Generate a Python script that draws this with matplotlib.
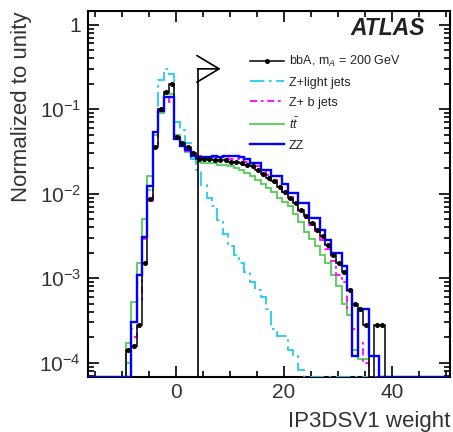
import numpy as np
import matplotlib
matplotlib.use('Agg')
import matplotlib.pyplot as plt
from matplotlib.lines import Line2D
from matplotlib.patches import FancyArrowPatch
from matplotlib.ticker import FixedLocator, MultipleLocator, NullFormatter

plt.rcParams['font.family'] = ['Liberation Sans', 'DejaVu Sans']
plt.rcParams['mathtext.fontset'] = 'custom'
plt.rcParams['mathtext.rm'] = 'Liberation Sans'
plt.rcParams['mathtext.it'] = 'Liberation Sans:italic'
plt.rcParams['mathtext.bf'] = 'Liberation Sans:bold'

# ---------------- data (bin low edges -10 ... 40, width 1) ----------------
bin_low = list(range(-10, 41))

signal_bbA = [0, 1.4e-4, 1.6e-4, 2.8e-4, 1.5e-3, 8.7e-3, 0.036, 0.10, 0.16, 0.20,
              0.047, 0.040, 0.036, 0.030, 0.026, 0.026, 0.026, 0.025, 0.025, 0.025,
              0.024, 0.024, 0.023, 0.022, 0.021, 0.019, 0.017, 0.0155, 0.0140, 0.012,
              0.0105, 0.009, 0.0078, 0.0065, 0.0054, 0.0045, 0.0037, 0.0032, 0.0025, 0.0019,
              0.0015, 0.0012, 7.3e-4, 5.0e-4, 4.3e-4, 2.8e-4, 0, 2.8e-4, 2.8e-4, 0, 0]

z_light = [0, 1.0e-4, 2.5e-4, 9e-4, 3e-3, 0.011, 0.05, 0.22, 0.30, 0.26,
           0.071, 0.057, 0.040, 0.026, 0.019, 0.0127, 0.009, 0.0071, 0.0049, 0.0033,
           0.0024, 0.0019, 0.0015, 0.0012, 9e-4, 7.3e-4, 6e-4, 4.3e-4, 2.5e-4, 2.1e-4,
           2.1e-4, 1.4e-4, 1.2e-4, 8.2e-5, 0, 0, 0, 0, 0, 0,
           0, 0, 0, 0, 0, 0, 0, 0, 0, 0, 0]

z_b = [0, 0, 2e-4, 5.5e-4, 2.9e-3, 8.1e-3, 0.035, 0.10, 0.14, 0.12,
       0.048, 0.040, 0.032, 0.029, 0.028, 0.027, 0.027, 0.027, 0.027, 0.027,
       0.026, 0.026, 0.025, 0.024, 0.023, 0.021, 0.019, 0.0165, 0.0145, 0.0125,
       0.0105, 0.0092, 0.0077, 0.0063, 0.0052, 0.0043, 0.0035, 0.0028, 0.0022, 0.0016,
       1.1e-3, 9.0e-4, 4.5e-4, 2.5e-4, 1.7e-4, 1.0e-4, 0, 0, 0, 0, 0]

ttbar = [0, 1.7e-4, 5.3e-4, 1.5e-3, 5e-3, 0.016, 0.05, 0.09, 0.16, 0.15,
         0.05, 0.038, 0.031, 0.026, 0.024, 0.023, 0.023, 0.023, 0.022, 0.022,
         0.021, 0.020, 0.019, 0.0175, 0.016, 0.0145, 0.013, 0.0117, 0.0105, 0.0089,
         0.008, 0.0071, 0.0057, 0.0046, 0.0035, 0.0029, 0.0024, 0.0019, 0.0015, 1.1e-3,
         8e-4, 5e-4, 3.7e-4, 1.4e-4, 1.1e-4, 1.1e-4, 0, 0, 0, 0, 0]

zz = [0, 0, 3.0e-4, 1.1e-3, 3.1e-3, 0.0122, 0.054, 0.094, 0.141, 0.141,
      0.045, 0.037, 0.033, 0.028, 0.027, 0.027, 0.027, 0.028, 0.027, 0.028,
      0.028, 0.028, 0.027, 0.026, 0.023, 0.023, 0.019, 0.019, 0.016, 0.016,
      0.013, 0.0101, 0.0101, 0.0078, 0.0078, 0.0052, 0.0052, 0.0037, 0.0028, 0.0020,
      0.0020, 0.0014, 7.3e-4, 1.2e-4, 4.3e-4, 4.3e-4, 1.2e-4, 1.2e-4, 0, 0, 0]

labels = ['bbA, m$_A$ = 200 GeV', 'Z+light jets', 'Z+ b jets', r'$t\bar{t}$', 'ZZ']
cut_value = 4.0
x_title = 'IP3DSV1 weight'
y_title = 'Normalized to unity'

# ---------------- figure ----------------
XMIN, XMAX = -16.3, 50.8
YMIN, YMAX = 6.8e-5, 1.45
W, H = 453, 432
fig = plt.figure(figsize=(W / 100, H / 100), dpi=100)
ax = fig.add_axes([88 / W, 1 - 377 / H, (450 - 88) / W, (377 - 11) / H])
ax.set_yscale('log')
ax.set_xlim(XMIN, XMAX)
ax.set_ylim(YMIN, YMAX)

edges = np.array(bin_low + [bin_low[-1] + 1], dtype=float) - 0.3
full_edges = np.concatenate([[XMIN], edges, [XMAX]])


def draw(vals, **kw):
    v = np.concatenate([[0.0], np.asarray(vals, float), [0.0]])
    v = np.maximum(v, YMIN)
    return ax.stairs(v, full_edges, baseline=None, **kw)


cyan = '#22ccee'
magenta = '#ff00ff'
green = '#55cc55'
blue = '#0000ff'
cyan_ls = (0, (8, 2.5, 1.5, 2.5))
mag_ls = (0, (4, 2, 1.5, 2))

draw(ttbar, color=green, lw=1.3, zorder=2)
draw(z_light, color=cyan, lw=1.3, linestyle=cyan_ls, zorder=3)
draw(z_b, color=magenta, lw=1.3, linestyle=mag_ls, zorder=3)
draw(signal_bbA, color='black', lw=1.1, zorder=4)
draw(zz, color=blue, lw=1.7, zorder=5)

centers = edges[:-1] + 0.5
sig = np.asarray(signal_bbA, float)
m = sig > 0
ax.plot(centers[m], sig[m], 'o', color='black', ms=2.6, zorder=6)

# cut line and arrow
ytop = 0.30
ax.plot([cut_value, cut_value], [YMIN, ytop], color='black', lw=1.2, zorder=7)
arr = FancyArrowPatch((cut_value, ytop), (cut_value + 4.3, ytop),
                      arrowstyle='->,head_length=1.0,head_width=0.6',
                      mutation_scale=16, color='black', lw=1.2, zorder=7,
                      shrinkA=0, shrinkB=0)
ax.add_patch(arr)

# ticks
ax.yaxis.set_major_locator(FixedLocator([1e-4, 1e-3, 1e-2, 1e-1, 1]))
ax.set_yticklabels(['$10^{-4}$', '$10^{-3}$', '$10^{-2}$', '$10^{-1}$', '1'])
minors = [k * 10.0 ** e for e in range(-5, 1) for k in range(2, 10)]
ax.yaxis.set_minor_locator(FixedLocator(minors))
ax.yaxis.set_minor_formatter(NullFormatter())
ax.xaxis.set_major_locator(MultipleLocator(20))
ax.xaxis.set_minor_locator(MultipleLocator(5))
ax.tick_params(which='both', direction='in', top=True, right=True, width=1.2,
               labelsize=15, labelcolor='#333333')
ax.tick_params(which='major', length=8)
ax.tick_params(which='minor', length=4.5)
ax.tick_params(axis='y', pad=5)
ax.tick_params(axis='x', pad=4)
for s in ax.spines.values():
    s.set_linewidth(1.5)

fig.text(22 / W, 1 - 12 / H, y_title, rotation=90, ha='center', va='top',
         fontsize=16, color='#333333')
fig.text(450 / W, 1 - 426.5 / H, x_title, ha='right', va='baseline',
         fontsize=16, color='#333333')

ax.text(0.931, 0.934, 'ATLAS', transform=ax.transAxes, ha='right', va='baseline',
        fontsize=16.5, fontweight='bold', fontstyle='italic', color='#222222')

handles = [
    Line2D([], [], color='black', lw=1.1, marker='o', ms=2.6),
    Line2D([], [], color=cyan, lw=1.3, linestyle=cyan_ls),
    Line2D([], [], color=magenta, lw=1.3, linestyle=mag_ls),
    Line2D([], [], color=green, lw=1.3),
    Line2D([], [], color=blue, lw=1.7),
]
leg = ax.legend(handles, labels, loc='upper left',
                bbox_to_anchor=((250 - 88) / 362, (377 - 54) / 366),
                frameon=False, fontsize=9, handlelength=2.7, handletextpad=0.4,
                labelspacing=0.62, borderpad=0, borderaxespad=0)
for t in leg.get_texts():
    t.set_color('#222222')

fig.savefig('out.png', dpi=100)
